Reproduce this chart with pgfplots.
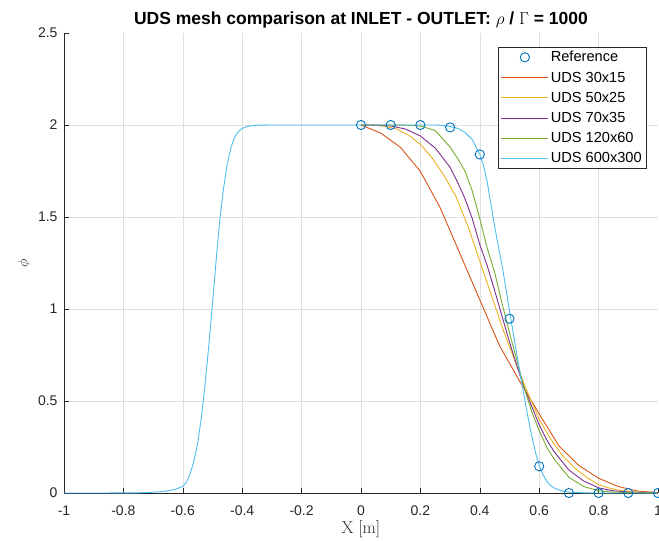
\documentclass[border=0pt]{standalone}
\usepackage[no-math]{fontspec}
\setmainfont{Liberation Sans}
\usepackage{pgfplots}
\pgfplotsset{compat=1.18}

\definecolor{mblue}{rgb}{0,0.447,0.741}
\definecolor{morange}{rgb}{0.850,0.325,0.098}
\definecolor{myellow}{rgb}{0.929,0.694,0.125}
\definecolor{mpurple}{rgb}{0.494,0.184,0.556}
\definecolor{mgreen}{rgb}{0.466,0.674,0.188}
\definecolor{mcyan}{rgb}{0.301,0.745,0.933}
\definecolor{axgray}{rgb}{0.15,0.15,0.15}
\definecolor{gridgray}{rgb}{0.875,0.875,0.875}

\pgfplotsset{
  refimg/.style={legend image code/.code={\path (0bp,0bp) (47bp,0bp); \draw[##1] plot coordinates {(23.5bp,0bp)};}},
  lineimg/.style={legend image code/.code={\draw[##1] (0bp,0bp) -- (47bp,0bp);}},
}

\begin{document}
\begin{tikzpicture}
\begin{axis}[
  name=ax,
  scale only axis,
  width=594bp, height=460bp,
  xmin=-1, xmax=1, ymin=0, ymax=2.5,
  axis x line*=bottom, axis y line*=left,
  axis line style={axgray, line width=0.6bp},
  xtick={-1,-0.8,-0.6,-0.4,-0.2,0,0.2,0.4,0.6,0.8},
  extra x ticks={1}, extra x tick style={grid=none},
  ytick={0,0.5,1,1.5,2},
  extra y ticks={2.5}, extra y tick style={grid=none},
  tick align=inside, major tick length=5bp,
  tick style={axgray, line width=0.6bp},
  grid=major, major grid style={gridgray, line width=0.6bp},
  /pgf/number format/assume math mode=true,
  ticklabel style={font=\fontsize{14bp}{16bp}\selectfont, text=axgray},
  xticklabel style={yshift=-9bp},
  yticklabel style={xshift=-3bp},
  title={UDS mesh comparison at INLET - OUTLET: $\rho$ / $\Gamma$ = 1000},
  title style={at={(axis description cs:0.5,1)}, anchor=base, yshift=3bp,
    font=\bfseries\fontsize{17.5bp}{20bp}\selectfont, text=black},
  xlabel={$\mathrm{X\ [m]}$},
  xlabel style={at={(axis description cs:0.5,-0.078)}, anchor=center,
    font=\fontsize{17bp}{19bp}\selectfont, text=axgray},
  ylabel={$\phi$},
  ylabel style={at={(axis description cs:-0.0673,0.5)}, anchor=center,
    font=\fontsize{14bp}{16bp}\selectfont, text=axgray},
  legend style={at={(1,1)}, anchor=north east, xshift=-11bp, yshift=-14bp,
    draw=axgray, line width=0.6bp, fill=white,
    font=\fontsize{14.6bp}{16bp}\selectfont, text=black,
    row sep=4.5bp, cells={anchor=west}},
  lineimg,
]
% Reference
\addplot[only marks, mark=o, mark size=4.6bp, mark options={mblue, line width=0.9bp}, refimg]
coordinates {
(0,2.0) (0.1,2.0) (0.2,2.0) (0.3,1.987) (0.4,1.84) (0.5,0.947)
(0.6,0.145) (0.7,0.0) (0.8,0.0) (0.9,0.0) (1.0,0.0)
};
\addlegendentry{Reference}
% UDS 30x15
\addplot[morange, line width=0.9bp] coordinates {
(0,2.0) (0.0667,1.956) (0.1333,1.878) (0.2,1.748) (0.2667,1.55) (0.3333,1.3)
(0.4,1.05) (0.4667,0.8) (0.5333,0.61) (0.6,0.43) (0.6667,0.255) (0.7333,0.15)
(0.8,0.08) (0.8667,0.035) (0.9333,0.01) (1.0,0.003)
};
\addlegendentry{UDS 30x15}
% UDS 50x25
\addplot[myellow, line width=0.9bp] coordinates {
(0,2.0) (0.04,1.999) (0.08,1.993) (0.12,1.978) (0.16,1.945) (0.2,1.895)
(0.24,1.82) (0.28,1.725) (0.32,1.61) (0.36,1.45) (0.4,1.26) (0.44,1.07)
(0.48,0.88) (0.52,0.71) (0.56,0.55) (0.6,0.40) (0.64,0.29) (0.68,0.2)
(0.72,0.135) (0.76,0.085) (0.8,0.045) (0.84,0.025) (0.88,0.012) (0.92,0.006)
(0.96,0.003) (1.0,0.001)
};
\addlegendentry{UDS 50x25}
% UDS 70x35
\addplot[mpurple, line width=0.9bp] coordinates {
(0,2.0) (0.05,1.999) (0.1,1.995) (0.15,1.978) (0.2,1.94) (0.25,1.875)
(0.3,1.77) (0.325,1.69) (0.35,1.6) (0.375,1.49) (0.4,1.35) (0.425,1.235)
(0.45,1.1) (0.475,0.96) (0.5,0.82) (0.525,0.69) (0.55,0.57) (0.575,0.47)
(0.6,0.37) (0.625,0.29) (0.65,0.225) (0.7,0.125) (0.75,0.065) (0.8,0.028)
(0.85,0.012) (0.9,0.005) (1.0,0.001)
};
\addlegendentry{UDS 70x35}
% UDS 120x60
\addplot[mgreen, line width=0.9bp] coordinates {
(0,2.0) (0.1,2.0) (0.15,1.999) (0.2,1.995) (0.25,1.97) (0.3,1.88)
(0.325,1.82) (0.35,1.75) (0.375,1.64) (0.4,1.49) (0.425,1.33) (0.45,1.2)
(0.475,1.03) (0.5,0.87) (0.525,0.72) (0.55,0.57) (0.575,0.44) (0.6,0.34)
(0.625,0.25) (0.65,0.185) (0.7,0.085) (0.75,0.035) (0.8,0.012) (0.85,0.005)
(0.9,0.002) (1.0,0.0)
};
\addlegendentry{UDS 120x60}
% UDS 600x300
\addplot[mcyan, line width=0.9bp] coordinates {
(-1,0) (-0.9,0) (-0.8,0.0005) (-0.75,0.001) (-0.7,0.004) (-0.675,0.007)
(-0.65,0.012) (-0.625,0.02) (-0.6,0.036) (-0.5875,0.06) (-0.575,0.105)
(-0.5625,0.175) (-0.55,0.27) (-0.5375,0.41) (-0.525,0.59) (-0.5125,0.8)
(-0.5,1.03) (-0.4875,1.27) (-0.475,1.49) (-0.4625,1.66) (-0.45,1.79)
(-0.4375,1.88) (-0.425,1.935) (-0.4125,1.965) (-0.4,1.982) (-0.375,1.995)
(-0.35,1.999) (-0.3,2.0) (0.25,2.0) (0.275,1.998) (0.3,1.992) (0.325,1.982)
(0.35,1.96) (0.375,1.92) (0.4,1.84) (0.4125,1.78) (0.425,1.69) (0.4375,1.57)
(0.45,1.45) (0.4625,1.34) (0.475,1.235) (0.4875,1.115) (0.5,0.99) (0.5125,0.87)
(0.525,0.75) (0.5375,0.635) (0.55,0.52) (0.5625,0.41) (0.575,0.31) (0.5875,0.22)
(0.6,0.15) (0.6125,0.1) (0.625,0.065) (0.6375,0.042) (0.65,0.027) (0.675,0.012)
(0.7,0.005) (0.75,0.001) (0.8,0) (1.0,0)
};
\addlegendentry{UDS 600x300}
\end{axis}
\pgfresetboundingbox
\path ([shift={(-64bp,-48bp)}]ax.south west) rectangle ([shift={(1bp,33bp)}]ax.north east);
\end{tikzpicture}
\end{document}
